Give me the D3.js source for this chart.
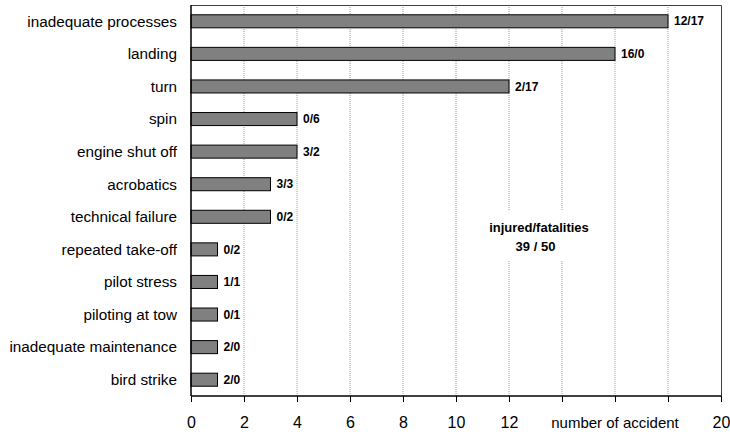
<!DOCTYPE html>
<html><head><meta charset="utf-8">
<script src="https://cdn.jsdelivr.net/npm/d3@7"></script>
<style>body{margin:0;background:#fff}svg{display:block}text{font-family:"Liberation Sans",Arial,sans-serif}</style>
</head><body><svg id="c" width="730" height="434"></svg>
<script>
const categories = ["inadequate processes","landing","turn","spin","engine shut off","acrobatics","technical failure","repeated take-off","pilot stress","piloting at tow","inadequate maintenance","bird strike"];
const accidents = [18,16,12,4,4,3,3,1,1,1,1,1];
const injuredFatal = ["12/17","16/0","2/17","0/6","3/2","3/3","0/2","0/2","1/1","0/1","2/0","2/0"];
const xTicks = [0,2,4,6,8,10,12,14,16,18,20];
const xTickLabels = ["0","2","4","6","8","10","12","","","","20"];
const axisTitle = "number of accident";
const noteLines = ["injured/fatalities","39 / 50"];

const svg = d3.select("#c");
const L=191, R=721, T=5, B=396;
const x = d3.scaleLinear().domain([0,20]).range([L,R]);
const y = d3.scaleBand().domain(categories).range([T,B]).paddingInner(0.6).paddingOuter(0.3);

// gridlines
svg.append("g").selectAll("line").data(xTicks.filter(t=>t>0&&t<20)).join("line")
  .attr("x1",d=>x(d)).attr("x2",d=>x(d)).attr("y1",T).attr("y2",B)
  .attr("stroke","#9a9a9a").attr("stroke-width",1).attr("stroke-dasharray","1,1");

// frame top/right
svg.append("path").attr("d",`M${L},${T+0.5}H${R+0.5}V${B}`).attr("fill","none").attr("stroke","#404040").attr("stroke-width",1);

// annotation
svg.append("rect").attr("x",486).attr("y",210).attr("width",104).attr("height",50).attr("fill","#fff");
svg.append("g").selectAll("text").data(noteLines).join("text")
  .attr("x",(d,i)=>i===0?539:535.5).attr("y",(d,i)=>232+i*19).attr("text-anchor","middle")
  .attr("font-size",13).attr("font-weight","bold").attr("fill","#000").text(d=>d);

// bars
svg.append("g").selectAll("rect").data(categories).join("rect")
  .attr("x",x(0)).attr("y",d=>y(d)).attr("width",(d,i)=>x(accidents[i])-x(0)).attr("height",y.bandwidth())
  .attr("fill","#808080").attr("stroke","#000").attr("stroke-width",1);

// value labels
svg.append("g").selectAll("text").data(categories).join("text")
  .attr("x",(d,i)=>x(accidents[i])+6).attr("y",d=>y(d)+y.bandwidth()/2).attr("dy","0.35em")
  .attr("font-size",12).attr("font-weight","bold").attr("fill","#000").text((d,i)=>injuredFatal[i]);

// category labels
svg.append("g").selectAll("text").data(categories).join("text")
  .attr("x",177).attr("y",d=>y(d)+y.bandwidth()/2).attr("dy","0.35em").attr("text-anchor","end")
  .attr("font-size",15.3).attr("fill","#000").text(d=>d);

// axes
const xa = svg.append("g").attr("transform",`translate(0,${B})`)
  .call(d3.axisBottom(x).tickValues(xTicks).tickFormat((d,i)=>xTickLabels[i]).tickSize(6).tickPadding(15));
xa.select(".domain").attr("stroke","#000").attr("stroke-width",1.5).attr("d",`M${L},0H${R}`);
xa.selectAll(".tick line").attr("stroke","#000");
xa.selectAll(".tick text").attr("font-size",16).attr("font-family","Liberation Sans, Arial, sans-serif").attr("fill","#000");
svg.append("line").attr("x1",L).attr("x2",L).attr("y1",T).attr("y2",B).attr("stroke","#000").attr("stroke-width",1.5);
svg.append("text").attr("x",x(16)).attr("y",B+27).attr("dy","0.35em").attr("text-anchor","middle")
  .attr("font-size",15).attr("fill","#000").text(axisTitle);
</script></body></html>
